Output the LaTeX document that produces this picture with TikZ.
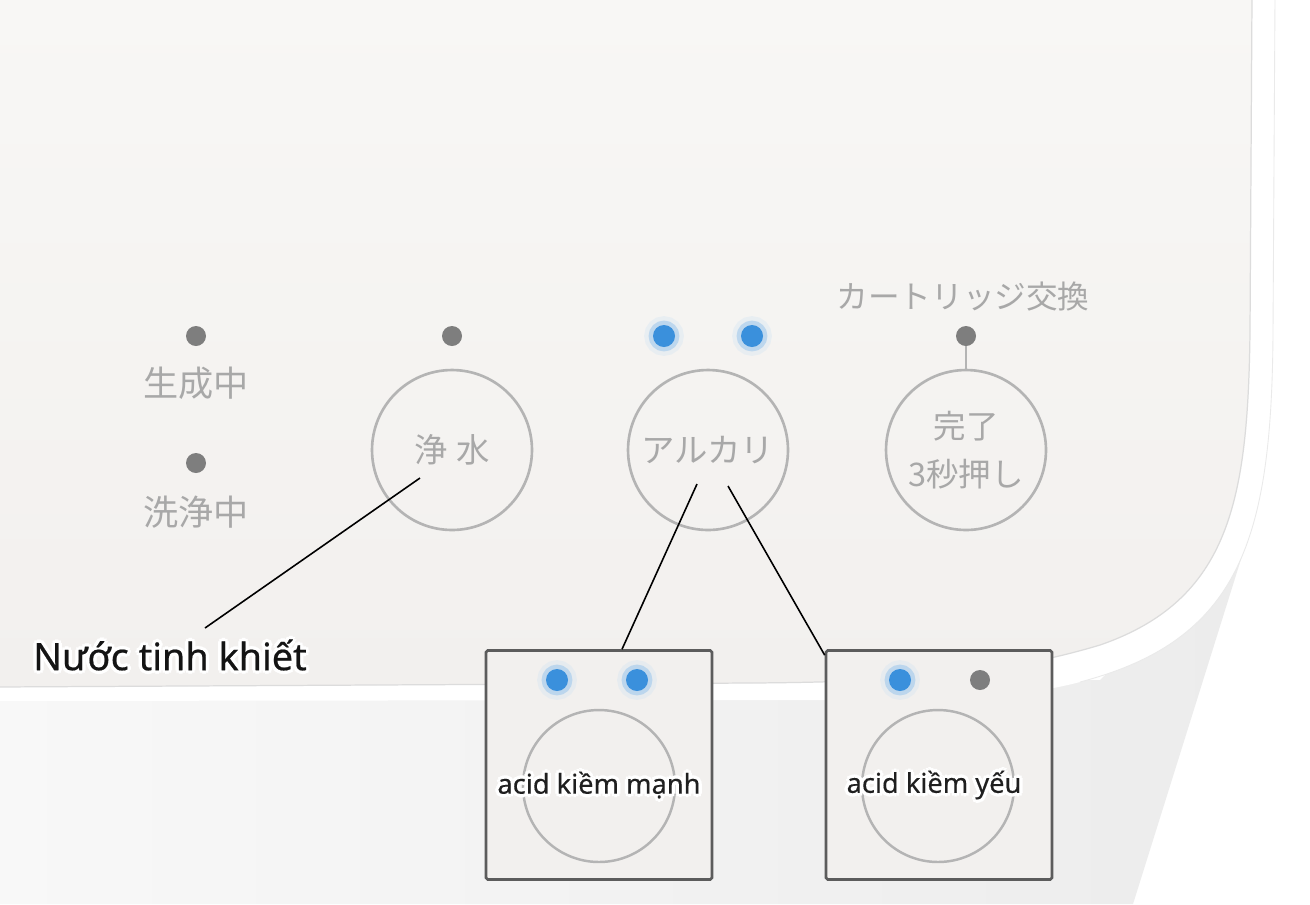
\documentclass[tikz,border=0pt]{standalone}
\usepackage{fontspec}
\setmainfont{Noto Sans}
\newfontfamily\jp{Noto Sans CJK JP}
\usetikzlibrary{calc}
\definecolor{paneltop}{HTML}{F8F7F5}
\definecolor{panelc}{HTML}{F2F0EE}
\definecolor{bodyl}{HTML}{F8F8F8}
\definecolor{bodyr}{HTML}{ECECEC}
\definecolor{rimline}{HTML}{DCDCDC}
\definecolor{jpgrey}{HTML}{A8A8A8}
\definecolor{ringgrey}{HTML}{B4B4B4}
\definecolor{dotgrey}{HTML}{7E7E7E}
\definecolor{ledblue}{HTML}{3A90DC}
\definecolor{boxedge}{HTML}{5C5C5C}
\newcommand\haloT[1]{\leavevmode\hbox{%
  \rlap{\color{white}\raisebox{2pt}{#1}}%
  \rlap{\color{white}\raisebox{-2pt}{#1}}%
  \rlap{\color{white}\kern2pt#1}%
  \rlap{\color{white}\kern-2pt#1}%
  \rlap{\color{white}\kern1.4pt\raisebox{1.4pt}{#1}}%
  \rlap{\color{white}\kern-1.4pt\raisebox{1.4pt}{#1}}%
  \rlap{\color{white}\kern1.4pt\raisebox{-1.4pt}{#1}}%
  \rlap{\color{white}\kern-1.4pt\raisebox{-1.4pt}{#1}}%
  #1}}
\begin{document}
\begin{tikzpicture}[x=0.02cm,y=-0.02cm,
  greydot/.style={circle,fill=dotgrey,inner sep=0pt,minimum size=0.4cm},
  bluedot/.style={circle,fill=ledblue,inner sep=0pt,minimum size=0.44cm,
     preaction={draw=ledblue!30,line width=10pt,opacity=0.25},
     preaction={draw=ledblue!55,line width=5pt,opacity=0.5}},
  jplabel/.style={text=jpgrey,font=\jp\fontsize{20}{24}\selectfont,inner sep=0pt},
  bigbtn/.style={circle,draw=ringgrey,line width=1.5pt,minimum size=3.2cm,inner sep=0pt,
     text=jpgrey,font=\jp\fontsize{19}{23}\selectfont,align=center},
  smallbtn/.style={circle,draw=ringgrey,line width=1.4pt,minimum size=3.04cm,inner sep=0pt},
  zoombox/.style={draw=boxedge,line width=1.5pt,fill=panelc,minimum width=4.52cm,minimum height=4.58cm,inner sep=0pt,rounded corners=1pt},
  callout/.style={black,line width=0.9pt},
  vnlabel/.style={font=\fontsize{21.5}{26}\selectfont\addfontfeature{FakeBold=0.5},inner sep=0pt,text=black!92},
  vnsmall/.style={font=\fontsize{15.5}{19}\selectfont\addfontfeature{FakeBold=0.3},inner sep=0pt,text=black!88}]
\useasboundingbox (0,0) rectangle (1310,904);
\fill[white] (0,0) rectangle (1310,904);
% body below the panel
\shade[left color=bodyl,right color=bodyr] (-5,692) -- (1100,680) -- (1247,540) -- (1133,904) -- (-5,904) -- cycle;
% white rim
\fill[white] (-5,-5) -- (1275,-5) -- (1273,330) .. controls (1272,540) and (1240,640) .. (1080,682) .. controls (1000,703) and (900,700) .. (750,700) -- (-5,701) -- cycle;
\draw[rimline!60,line width=0.5pt] (1275,-5) -- (1273,330) .. controls (1272,540) and (1240,640) .. (1080,682);
% panel
\shade[top color=paneltop,bottom color=panelc] (-5,-5) -- (1252,-5) -- (1250,330) .. controls (1248,500) and (1230,600) .. (1100,645) .. controls (1000,675) and (900,682) .. (750,683) -- (-5,687) -- cycle;
\draw[rimline,line width=0.7pt] (1252,-5) -- (1250,330) .. controls (1248,500) and (1230,600) .. (1100,645) .. controls (1000,675) and (900,682) .. (750,683) -- (-5,687);

% left indicators
\node[greydot] (d1) at (196,336) {};
\node[jplabel] (t1) at (196,383) {生成中};
\node[greydot] (d2) at (196,463) {};
\node[jplabel] (t2) at (196,512) {洗浄中};

% buttons
\node[greydot] (dj) at (452,336) {};
\node[bigbtn] (cj) at (452,450) {浄\kern0.25em水};
\node[bluedot] (b1) at (664,336) {};
\node[bluedot] (b2) at (752,336) {};
\node[bigbtn] (ca) at (708,450) {アルカリ};
\node[jplabel,font=\jp\fontsize{18}{22}\selectfont] (tc) at (963,297) {カートリッジ交換};
\node[greydot] (dc) at (966,336) {};
\node[bigbtn,font=\jp\fontsize{18.5}{27}\selectfont] (cc) at (966,450) {完了\\3秒押し};
\draw[ringgrey,line width=1.2pt] (dc) -- (cc);

% zoom boxes
\node[zoombox] (box1) at (599,765) {};
\node[bluedot] (b3) at (557,680) {};
\node[bluedot] (b4) at (637,680) {};
\node[smallbtn] (s1) at (599,786) {};
\node[vnsmall] (l1) at (599,785) {\haloT{acid kiềm mạnh}};

\node[zoombox] (box2) at (939,765) {};
\node[bluedot] (b5) at (900,680) {};
\node[greydot] (d5) at (980,680) {};
\node[smallbtn] (s2) at (938,786) {};
\node[vnsmall] (l2) at (934,785) {\haloT{acid kiềm yếu}};

% label
\node[vnlabel] (lbl) at (170,655) {\haloT{Nước tinh khiết}};

% callouts
\coordinate (pj) at (420,478);
\coordinate (pa1) at (697,484);
\coordinate (pa2) at (728,486);
\coordinate (lj) at (205,628);
\draw[callout] (pj) -- (lj);
\draw[callout] (pa1) -- ($(box1.north)+(23,0)$);
\draw[callout] (pa2) -- ($(box2.north west)+(0,6)$);
\end{tikzpicture}
\end{document}
